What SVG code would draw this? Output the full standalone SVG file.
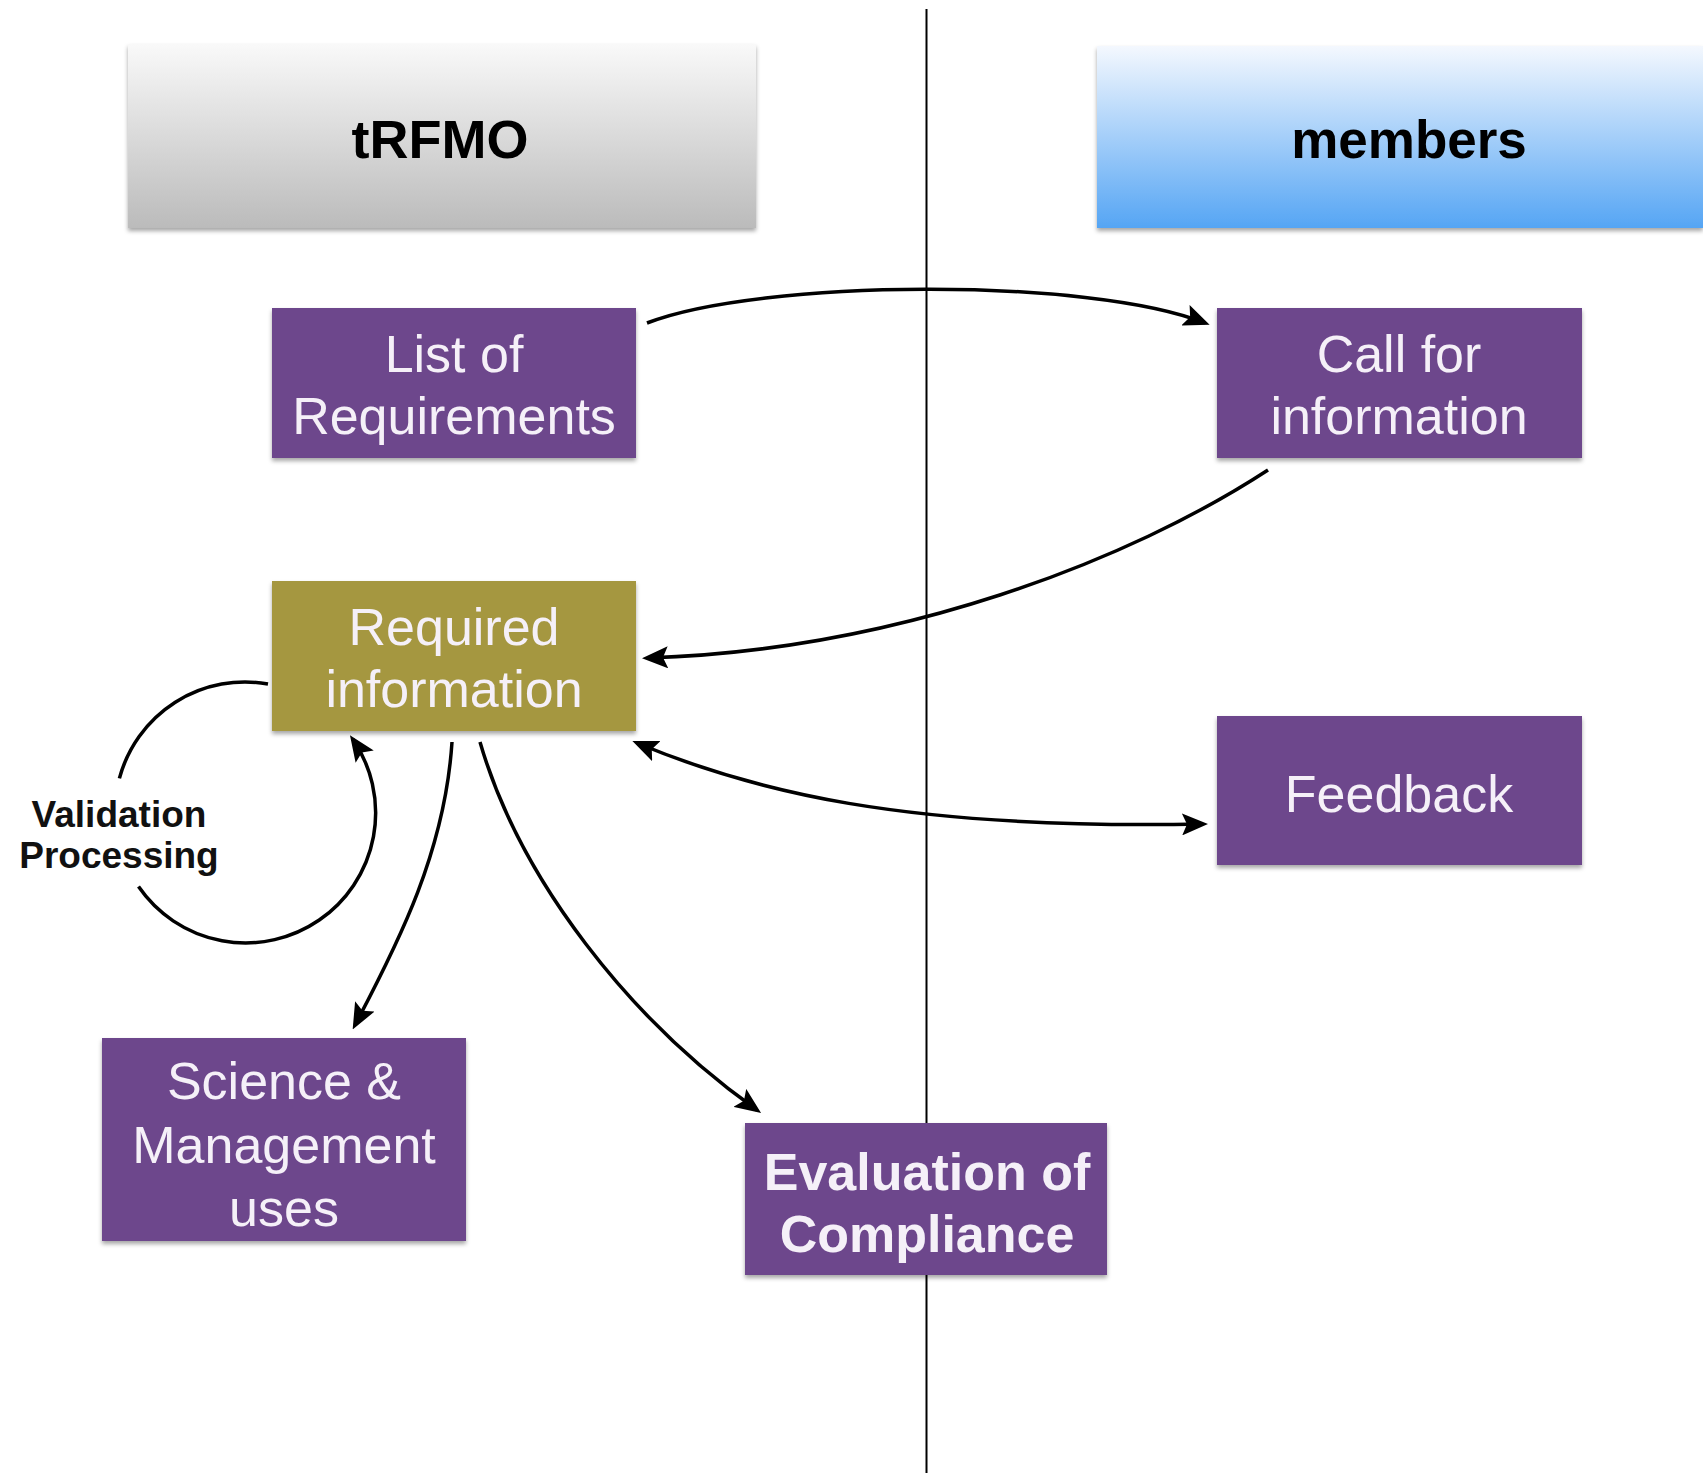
<svg xmlns="http://www.w3.org/2000/svg" width="1703" height="1473" viewBox="0 0 1703 1473">
<defs>
<linearGradient id="gGray" x1="0" y1="0" x2="0" y2="1">
<stop offset="0" stop-color="#f9f9f9"/>
<stop offset="1" stop-color="#bbbbbb"/>
</linearGradient>
<linearGradient id="gBlue" x1="0" y1="0" x2="0" y2="1">
<stop offset="0" stop-color="#f4f8fe"/>
<stop offset="1" stop-color="#55a5f4"/>
</linearGradient>
<filter id="sh" x="-5%" y="-5%" width="110%" height="115%">
<feDropShadow dx="0" dy="3" stdDeviation="2" flood-color="#000" flood-opacity="0.35"/>
</filter>
<marker id="ah" viewBox="0 0 26 22" markerWidth="26" markerHeight="22" refX="21" refY="11" orient="auto-start-reverse" markerUnits="userSpaceOnUse">
<path d="M0,0 L26,11 L0,22 L5,11 z" fill="#000"/>
</marker>
<style>
.hdr{font-family:"Liberation Sans",Arial,sans-serif;font-weight:bold;fill:#000;text-anchor:middle}
.lbl{font-family:"Liberation Sans",Arial,sans-serif;font-size:52px;fill:#f5f0f8;text-anchor:middle}
.bold{font-weight:bold}
.purple{fill:#6d478c}
.olive{fill:#a5973f}
.conn{fill:none;stroke:#000;stroke-width:3.5}
.side{font-family:"Liberation Sans",Arial,sans-serif;font-size:37px;font-weight:bold;fill:#111;text-anchor:middle}
</style>
</defs>
<rect width="1703" height="1473" fill="#fff"/>

<g id="header-trfmo">
<rect x="128" y="44" width="628" height="184" fill="url(#gGray)" filter="url(#sh)"/>
<text class="hdr" x="440" y="158" font-size="54">tRFMO</text>
</g>
<g id="header-members">
<rect x="1097" y="46" width="606" height="182" fill="url(#gBlue)" filter="url(#sh)"/>
<text class="hdr" x="1409" y="158" font-size="53">members</text>
</g>

<line id="divider" x1="926.5" y1="9" x2="926.5" y2="1473" stroke="#000" stroke-width="2"/>

<g id="connectors">
<path class="conn" d="M647,323 C760,279 1090,277 1205,323" marker-end="url(#ah)"/>
<path class="conn" d="M1268,470 C1130,560 900,650 647,658" marker-end="url(#ah)"/>
<path class="conn" d="M637,743 C750,790 900,830 1203,824" marker-start="url(#ah)" marker-end="url(#ah)"/>
<path class="conn" d="M268,684 A130,130 0 0 0 119.4,778.4"/>
<path class="conn" d="M138.5,886.6 A130,130 0 0 0 352.8,739.3" marker-end="url(#ah)"/>
<path class="conn" d="M452,742 C445,850 400,940 355,1025" marker-end="url(#ah)"/>
<path class="conn" d="M480,742 C520,880 630,1020 757,1110" marker-end="url(#ah)"/>
</g>

<g id="label-validation">
<text class="side" x="119" y="827">Validation</text>
<text class="side" x="119" y="868">Processing</text>
</g>

<g id="node-list">
<rect class="purple" x="272" y="308" width="364" height="150" filter="url(#sh)"/>
<text class="lbl" x="454" y="372">List of</text>
<text class="lbl" x="454" y="434">Requirements</text>
</g>
<g id="node-call">
<rect class="purple" x="1217" y="308" width="365" height="150" filter="url(#sh)"/>
<text class="lbl" x="1399" y="372">Call for</text>
<text class="lbl" x="1399" y="434">information</text>
</g>
<g id="node-required">
<rect class="olive" x="272" y="581" width="364" height="150" filter="url(#sh)"/>
<text class="lbl" x="454" y="645">Required</text>
<text class="lbl" x="454" y="707">information</text>
</g>
<g id="node-feedback">
<rect class="purple" x="1217" y="716" width="365" height="149" filter="url(#sh)"/>
<text class="lbl" x="1399" y="812" font-size="54">Feedback</text>
</g>
<g id="node-science">
<rect class="purple" x="102" y="1038" width="364" height="203" filter="url(#sh)"/>
<text class="lbl" x="284" y="1099" font-size="53">Science &amp;</text>
<text class="lbl" x="284" y="1163" font-size="53">Management</text>
<text class="lbl" x="284" y="1226" font-size="53">uses</text>
</g>
<g id="node-evaluation">
<rect class="purple" x="745" y="1123" width="362" height="152" filter="url(#sh)"/>
<text class="lbl bold" x="927" y="1190" font-size="53">Evaluation of</text>
<text class="lbl bold" x="927" y="1252" font-size="53">Compliance</text>
</g>
</svg>
